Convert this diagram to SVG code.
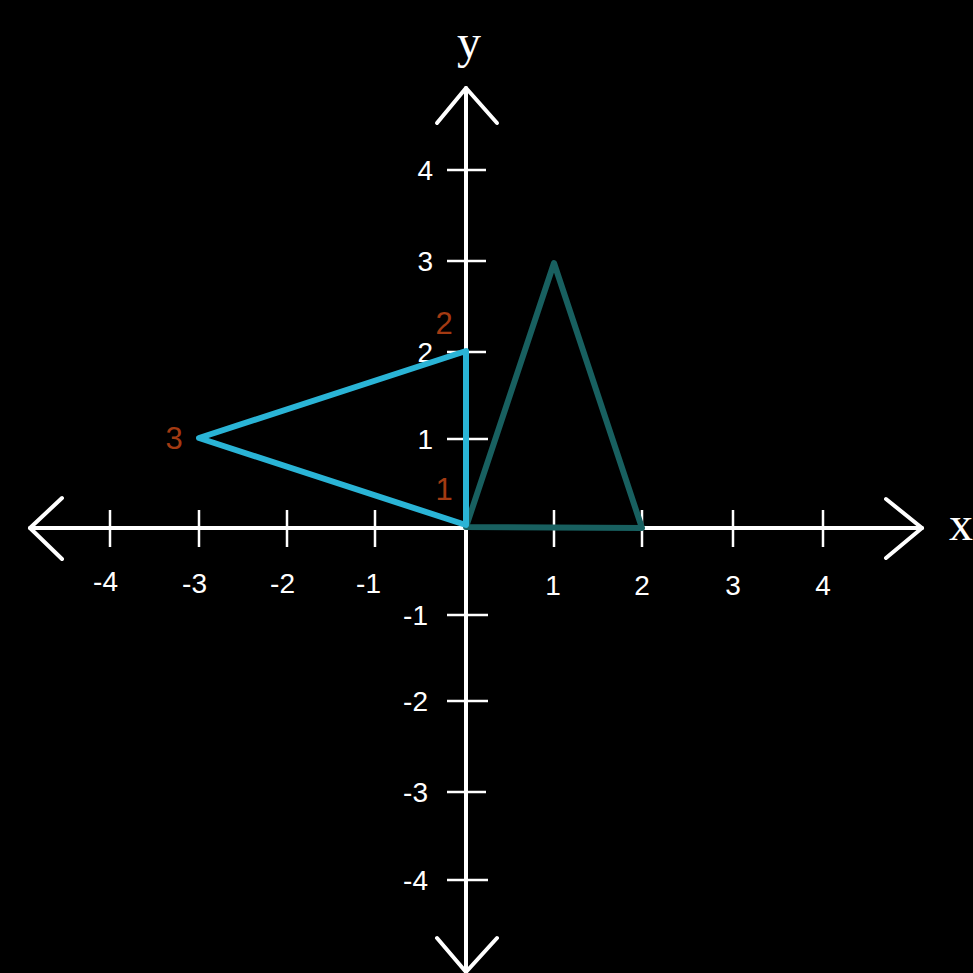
<svg xmlns="http://www.w3.org/2000/svg" width="973" height="973" viewBox="0 0 973 973">
<style>
.ax{stroke:#fff;stroke-width:4;fill:none;stroke-linecap:round;stroke-linejoin:round}
.tk{stroke:#fff;stroke-width:2.5}
.lb{fill:#fff;font-family:"Liberation Sans",Arial,sans-serif;font-size:28px}
.al{fill:#fff;font-family:"Liberation Serif","Times New Roman",serif;font-size:48px}
.vl{fill:#a33a12;font-family:"Liberation Sans",Arial,sans-serif;font-size:31px}
</style>
<rect width="973" height="973" fill="#000"/>
<g id="axes">
<line class="ax" x1="30" y1="528" x2="922" y2="528"/>
<line class="ax" x1="466" y1="88" x2="466" y2="972"/>
<polyline class="ax" points="62,498 30,528 62,559"/>
<polyline class="ax" points="886,499 922,528 886,558"/>
<polyline class="ax" points="437,123 466,88 497,123"/>
<polyline class="ax" points="437,938 466,972 497,938"/>
<text class="al" x="469" y="58" text-anchor="middle">y</text>
<text class="al" x="949" y="540">x</text>
</g>
<g id="xticks">
<line class="tk" x1="110" y1="510" x2="110" y2="547"/>
<line class="tk" x1="199" y1="510" x2="199" y2="547"/>
<line class="tk" x1="287" y1="510" x2="287" y2="547"/>
<line class="tk" x1="375" y1="510" x2="375" y2="547"/>
<line class="tk" x1="554" y1="510" x2="554" y2="547"/>
<line class="tk" x1="642" y1="510" x2="642" y2="547"/>
<line class="tk" x1="733" y1="510" x2="733" y2="547"/>
<line class="tk" x1="823" y1="510" x2="823" y2="547"/>
<text class="lb" x="118" y="591" text-anchor="end">-4</text>
<text class="lb" x="207" y="593" text-anchor="end">-3</text>
<text class="lb" x="295" y="593" text-anchor="end">-2</text>
<text class="lb" x="381" y="593" text-anchor="end">-1</text>
<text class="lb" x="553" y="595" text-anchor="middle">1</text>
<text class="lb" x="642" y="595" text-anchor="middle">2</text>
<text class="lb" x="733" y="595" text-anchor="middle">3</text>
<text class="lb" x="823" y="595" text-anchor="middle">4</text>
</g>
<g id="yticks">
<line class="tk" x1="447" y1="170" x2="486" y2="170"/>
<line class="tk" x1="447" y1="261" x2="486" y2="261"/>
<line class="tk" x1="447" y1="352" x2="486" y2="352"/>
<line class="tk" x1="447" y1="439" x2="488" y2="439"/>
<line class="tk" x1="447" y1="615" x2="488" y2="615"/>
<line class="tk" x1="447" y1="701" x2="488" y2="701"/>
<line class="tk" x1="447" y1="792" x2="486" y2="792"/>
<line class="tk" x1="447" y1="880" x2="488" y2="880"/>
<text class="lb" x="433" y="180" text-anchor="end">4</text>
<text class="lb" x="433" y="271" text-anchor="end">3</text>
<text class="lb" x="433" y="362" text-anchor="end">2</text>
<text class="lb" x="433" y="449" text-anchor="end">1</text>
<text class="lb" x="428" y="625" text-anchor="end">-1</text>
<text class="lb" x="428" y="711" text-anchor="end">-2</text>
<text class="lb" x="428" y="802" text-anchor="end">-3</text>
<text class="lb" x="428" y="890" text-anchor="end">-4</text>
</g>
<g id="triangle-original">
<polygon points="466,527 554,263 642,528" fill="none" stroke="#186060" stroke-width="6" stroke-linejoin="round"/>
</g>
<g id="triangle-rotated">
<polygon points="466,525 466,351 199,438" fill="none" stroke="#2ab4d6" stroke-width="6" stroke-linejoin="round"/>
</g>
<g id="vertex-labels">
<text class="vl" x="444" y="500" text-anchor="middle">1</text>
<text class="vl" x="444" y="334" text-anchor="middle">2</text>
<text class="vl" x="174" y="449" text-anchor="middle">3</text>
</g>
</svg>
